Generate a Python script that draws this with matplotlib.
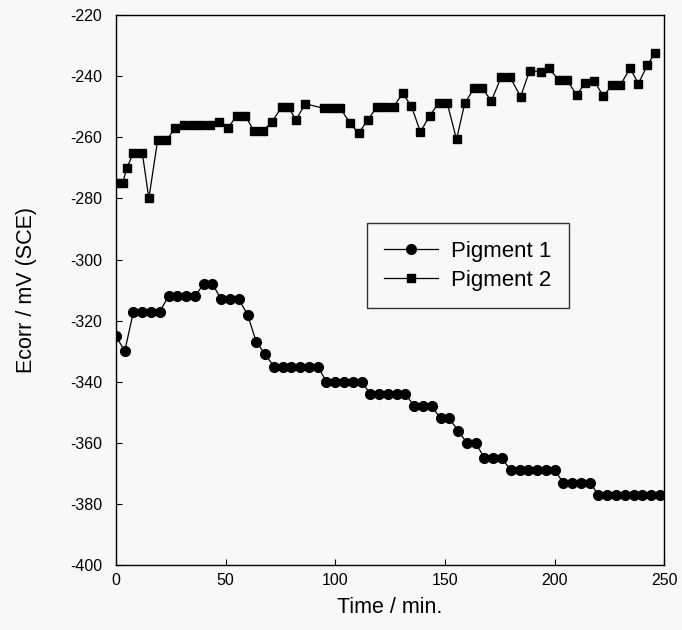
import matplotlib
matplotlib.use("Agg")
import matplotlib.pyplot as plt

# Pigment 1: sampled every 4 min
p1_time = list(range(0, 252, 4))
p1_ecorr = [
    -325, -330,
    -317, -317, -317, -317,
    -312, -312, -312, -312,
    -308, -308,
    -313, -313, -313,
    -318, -327, -331,
    -335, -335, -335, -335, -335, -335,
    -340, -340, -340, -340, -340,
    -344, -344, -344, -344, -344,
    -348, -348, -348,
    -352, -352,
    -356,
    -360, -360,
    -365, -365, -365,
    -369, -369, -369, -369, -369, -369,
    -373, -373, -373, -373,
    -377, -377, -377, -377, -377, -377, -377, -377,
]

# Pigment 2
p2_time = [0, 3, 5, 8, 12, 15, 19, 23, 27, 31, 35, 39, 43, 47, 51, 55, 59,
           63, 67, 71, 75.7, 78.7, 82, 86.3, 94.7, 98.5, 102.3, 106.8, 110.6,
           114.7, 119, 122.8, 126.6, 130.7, 134.7, 138.8, 143, 147.2, 151,
           155.3, 159, 163.2, 167, 171.2, 175.7, 179.6, 184.5, 188.6, 193.6,
           197.4, 202, 205.8, 210, 214, 218, 222.2, 226.3, 230, 234.4, 238.2,
           242.3, 245.8]
p2_ecorr = [-275, -275, -270, -265, -265, -280, -261, -261, -257, -256, -256,
            -256, -256, -255, -257, -253, -253, -258, -258, -255, -250, -250,
            -254.4, -249, -250.5, -250.5, -250.5, -255.4, -258.7, -254.4, -250,
            -250, -250, -245.6, -249.8, -258.2, -253, -248.7, -248.7, -260.7,
            -248.9, -244, -244, -248, -240.2, -240.2, -246.7, -238.2, -238.5,
            -237.4, -241.3, -241.3, -246.2, -242.1, -241.5, -246.5, -242.9,
            -242.9, -237.4, -242.4, -236.4, -232.3]

BG = "#f8f8f8"
plt.rcParams.update({
    "font.family": ["Liberation Sans", "DejaVu Sans"],
    "axes.unicode_minus": False,
    "axes.linewidth": 1.0,
    "xtick.direction": "in",
    "ytick.direction": "in",
})

fig = plt.figure(figsize=(6.82, 6.30), dpi=100, facecolor=BG)
ax = fig.add_axes([0.170, 0.103, 0.804, 0.873], facecolor=BG)

ax.plot(p1_time, p1_ecorr, color="black", linewidth=0.9, marker="o",
        markersize=7, label="Pigment 1")
ax.plot(p2_time, p2_ecorr, color="black", linewidth=0.9, marker="s",
        markersize=6.2, label="Pigment 2")

ax.set_xlim(0, 250)
ax.set_ylim(-400, -220)
ax.set_xticks(range(0, 251, 50))
ax.set_yticks(range(-400, -219, 20))
ax.tick_params(axis="y", labelsize=11.5, length=4, width=0.8, pad=10)
ax.tick_params(axis="x", labelsize=11.5, length=4, width=0.8, pad=6)

ax.set_xlabel("Time / min.", fontsize=15.5, labelpad=6)
ax.set_ylabel("Ecorr / mV (SCE)", fontsize=15.5, labelpad=24)

leg = ax.legend(loc="upper left", bbox_to_anchor=(0.457, 0.622),
                fontsize=16, frameon=True, fancybox=False,
                handlelength=2.4, handletextpad=0.6,
                borderpad=0.8, labelspacing=0.35, borderaxespad=0)
leg.get_frame().set_edgecolor("black")
leg.get_frame().set_linewidth(1.0)
leg.get_frame().set_facecolor(BG)

fig.savefig("out.png", dpi=100, facecolor=BG)
